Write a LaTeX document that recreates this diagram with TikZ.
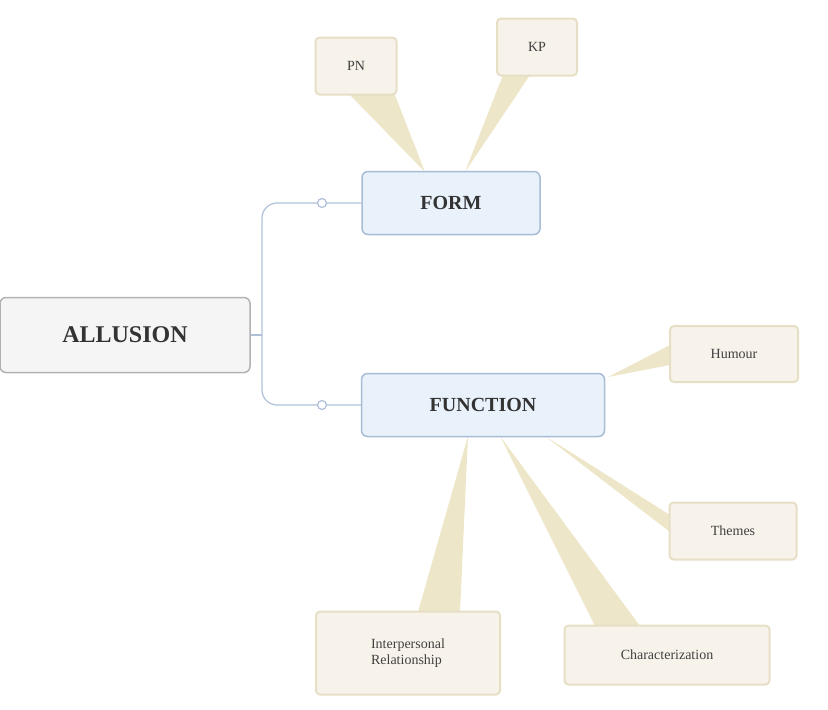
\documentclass[tikz,border=0pt]{standalone}
\usepackage{fontspec}
\setmainfont{Liberation Serif}
\definecolor{midfill}{HTML}{E9F1FB}
\definecolor{middraw}{HTML}{A9BCD6}
\definecolor{leaffill}{HTML}{F7F3EA}
\definecolor{leafdraw}{HTML}{E6DFC6}
\definecolor{wedgec}{HTML}{EDE6C8}
\definecolor{treec}{HTML}{AFC0D8}
\begin{document}
\begin{tikzpicture}[x=1pt,y=-1pt,
  root/.style={draw=gray!60,line width=1.5pt,fill=gray!8,rounded corners=6pt,minimum width=250pt,minimum height=75pt,font=\bfseries\fontsize{24}{28}\selectfont,text=black!80},
  mid/.style={draw=middraw,line width=1.5pt,fill=midfill,rounded corners=6pt,minimum height=63pt,font=\bfseries\fontsize{20}{24}\selectfont,text=black!80},
  leaf/.style={draw=leafdraw,line width=2pt,fill=leaffill,rounded corners=4pt,font=\fontsize{14}{16}\selectfont,text=black!75,align=left},
  wedge/.style={fill=wedgec},
  tree/.style={draw=treec,line width=1.2pt}]
\useasboundingbox (0,0) rectangle (828,710);
% wedges
\fill[wedge] (350,95) -- (395,95) -- (425,172) -- cycle;
\fill[wedge] (503,75) -- (530,75) -- (465,172) -- cycle;
\fill[wedge] (670,345) -- (670,365) -- (608,377) -- cycle;
\fill[wedge] (670,515) -- (670,532) -- (545,436) -- cycle;
\fill[wedge] (418,612) -- (460,612) -- (468,436) -- cycle;
\fill[wedge] (595,626) -- (640,626) -- (500,436) -- cycle;
% nodes
\node[root] (al) at (125,335) {ALLUSION};
\node[mid,minimum width=178pt] (form) at (451,203) {FORM};
\node[mid,minimum width=243pt] (func) at (483,405) {FUNCTION};
\node[leaf,minimum width=81pt,minimum height=57pt] (pn) at (356,66) {PN};
\node[leaf,minimum width=80pt,minimum height=57pt] (kp) at (537,47) {KP};
\node[leaf,minimum width=128pt,minimum height=56pt] (hu) at (734,354) {Humour};
\node[leaf,minimum width=127pt,minimum height=57pt] (th) at (733,531) {Themes};
\node[leaf,minimum width=184pt,minimum height=83pt] (ir) at (408,653) {Interpersonal\\Relationship};
\node[leaf,minimum width=205pt,minimum height=59pt] (ch) at (667,655) {Characterization};
% tree connectors
\coordinate (j) at (262,335);
\draw[tree] (al.east) -- (j);
\draw[tree] (j) -- (262,218) to[out=90,in=180] (277,203) -- (form.west);
\draw[tree] (j) -- (262,390) to[out=-90,in=180] (277,405) -- (func.west);
\draw[tree,fill=white] (322,203) circle (4.5pt);
\draw[tree,fill=white] (322,405) circle (4.5pt);
\end{tikzpicture}
\end{document}
